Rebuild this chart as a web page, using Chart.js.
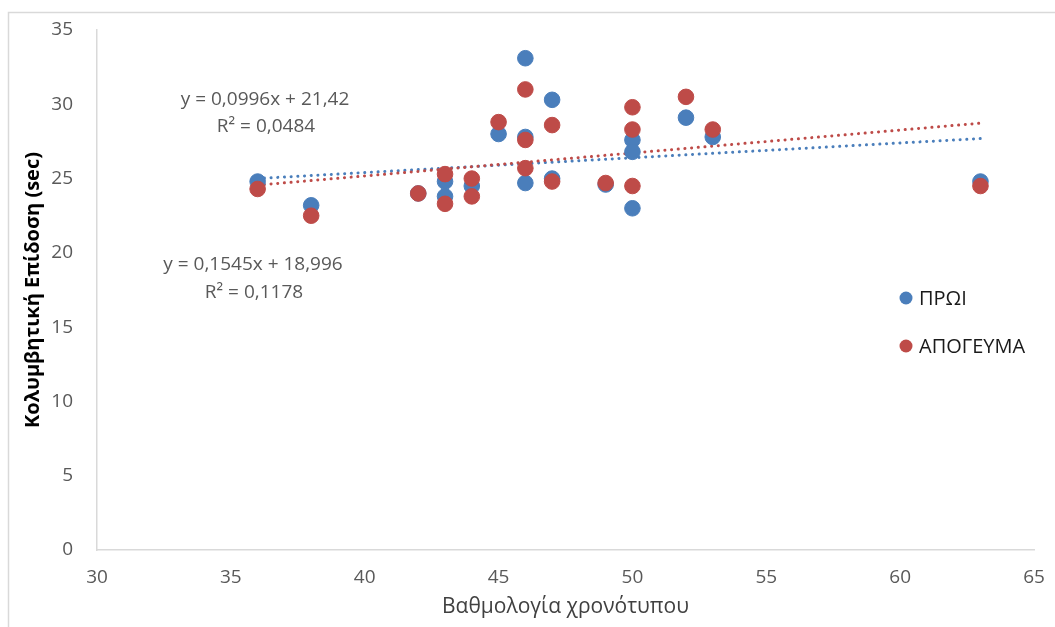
<!DOCTYPE html>
<html>
<head>
<meta charset="utf-8">
<script src="https://cdn.jsdelivr.net/npm/chart.js@4"></script>
<style>
  html, body { margin: 0; padding: 0; background: #fff; }
  #wrap { width: 1055px; height: 627px; position: relative; }
</style>
</head>
<body>
<div id="wrap"><canvas id="c" width="1055" height="627"></canvas></div>
<script>
// δεδομένα από το γράφημα
const morningX = [36, 38, 42, 43, 43, 44, 45, 46, 46, 46, 47, 47, 49, 50, 50, 50, 52, 53, 63];
const morningY = [24.8, 23.2, 24.0, 24.8, 23.8, 24.5, 28.0, 33.1, 27.8, 24.7, 30.3, 25.0, 24.6, 27.6, 26.8, 23.0, 29.1, 27.8, 24.8];
const eveningX = [36, 38, 42, 43, 43, 44, 44, 45, 46, 46, 46, 47, 47, 49, 50, 50, 50, 52, 53, 63];
const eveningY = [24.3, 22.5, 24.0, 25.3, 23.3, 25.0, 23.8, 28.8, 31.0, 27.6, 25.7, 28.6, 24.8, 24.7, 29.8, 28.3, 24.5, 30.5, 28.3, 24.5];

const seriesNames = ["ΠΡΩΙ", "ΑΠΟΓΕΥΜΑ"];
const xTicks = [30, 35, 40, 45, 50, 55, 60, 65];
const yTicks = [0, 5, 10, 15, 20, 25, 30, 35];

// γραμμές τάσης (όπως τις δείχνει το γράφημα)
const trendRange = [36, 63];
const morningTrend = { a: 0.0996, b: 21.42, eq: "y = 0,0996x + 21,42", r2: "R² = 0,0484" };
const eveningTrend = { a: 0.1545, b: 18.996, eq: "y = 0,1545x + 18,996", r2: "R² = 0,1178" };

const BLUE = "#4a7ebb";
const RED = "#be4b48";
const FONT = "'Open Sans', 'Noto Sans', sans-serif";

const toPoints = (xs, ys) => xs.map((x, i) => ({ x: x, y: ys[i] }));
const trendPoints = (t) => trendRange.map((x) => ({ x: x, y: t.a * x + t.b }));

// υπόμνημα και εξισώσεις πάνω στον καμβά
const overlay = {
  id: "overlay",
  beforeDraw(chart) {
    const ctx = chart.ctx;
    ctx.save();
    ctx.strokeStyle = "#d9d9d9";
    ctx.lineWidth = 1.5;
    ctx.beginPath();
    ctx.moveTo(8.5, 700);
    ctx.lineTo(8.5, 12.5);
    ctx.lineTo(1100, 12.5);
    ctx.stroke();
    ctx.restore();
  },
  afterDraw(chart) {
    const ctx = chart.ctx;
    ctx.save();
    ctx.textAlign = "center";
    ctx.textBaseline = "middle";
    ctx.fillStyle = "#595959";
    ctx.font = "19px " + FONT;
    ctx.fillText(morningTrend.eq, 265, 100);
    ctx.fillText(morningTrend.r2, 266, 127);
    ctx.fillText(eveningTrend.eq, 253, 265);
    ctx.fillText(eveningTrend.r2, 254, 293);

    const cols = [BLUE, RED];
    const ys = [298, 346];
    ctx.textAlign = "left";
    ctx.font = "20px " + FONT;
    seriesNames.forEach((name, i) => {
      ctx.beginPath();
      ctx.fillStyle = cols[i];
      ctx.arc(906, ys[i], 6.5, 0, Math.PI * 2);
      ctx.fill();
      ctx.fillStyle = "#1a1a1a";
      ctx.fillText(name, 919, ys[i] + 1);
    });
    ctx.restore();
  }
};

new Chart(document.getElementById("c"), {
  type: "scatter",
  data: {
    datasets: [
      {
        label: seriesNames[0],
        data: toPoints(morningX, morningY),
        backgroundColor: BLUE,
        borderColor: BLUE,
        pointRadius: 7.8,
        order: 1
      },
      {
        label: seriesNames[1],
        data: toPoints(eveningX, eveningY),
        backgroundColor: RED,
        borderColor: RED,
        pointRadius: 7.8,
        order: 0
      },
      {
        type: "line",
        label: "trend1",
        data: trendPoints(morningTrend),
        borderColor: BLUE,
        borderWidth: 3,
        borderDash: [0.1, 6.6],
        borderCapStyle: "round",
        pointRadius: 0,
        fill: false,
        order: 3
      },
      {
        type: "line",
        label: "trend2",
        data: trendPoints(eveningTrend),
        borderColor: RED,
        borderWidth: 3,
        borderDash: [0.1, 6.6],
        borderCapStyle: "round",
        pointRadius: 0,
        fill: false,
        order: 2
      }
    ]
  },
  options: {
    responsive: false,
    animation: false,
    layout: { padding: { top: 30, right: 21, bottom: 0, left: 0 } },
    plugins: {
      legend: { display: false },
      tooltip: { enabled: false }
    },
    scales: {
      x: {
        type: "linear",
        min: 30,
        max: 65,
        afterBuildTicks: (s) => { s.ticks = xTicks.map((v) => ({ value: v })); },
        afterFit: (s) => { s.height = 77; s.paddingLeft = 0; s.paddingRight = 0; },
        grid: { display: true, color: "transparent", drawTicks: false },
        border: { display: true, color: "#d9d9d9", width: 1.5 },
        ticks: { color: "#595959", font: { family: FONT, size: 19 }, padding: 16 },
        title: {
          display: true,
          text: "Βαθμολογία χρονότυπου",
          color: "#404040",
          font: { family: FONT, size: 21 },
          padding: { top: 0, bottom: 7 }
        }
      },
      y: {
        type: "linear",
        min: 0,
        max: 35,
        afterBuildTicks: (s) => { s.ticks = yTicks.map((v) => ({ value: v })); },
        afterFit: (s) => { s.width = 97; s.paddingTop = 0; s.paddingBottom = 0; },
        grid: { display: true, color: "transparent", drawTicks: false },
        border: { display: true, color: "#d9d9d9", width: 1.5 },
        ticks: { color: "#595959", font: { family: FONT, size: 19 }, padding: 24 },
        title: {
          display: true,
          text: "Κολυμβητική Επίδοση (sec)",
          color: "#000",
          font: { family: FONT, size: 20, weight: "bold" },
          padding: { top: 21, bottom: 0 }
        }
      }
    }
  },
  plugins: [overlay]
});
</script>
</body>
</html>
